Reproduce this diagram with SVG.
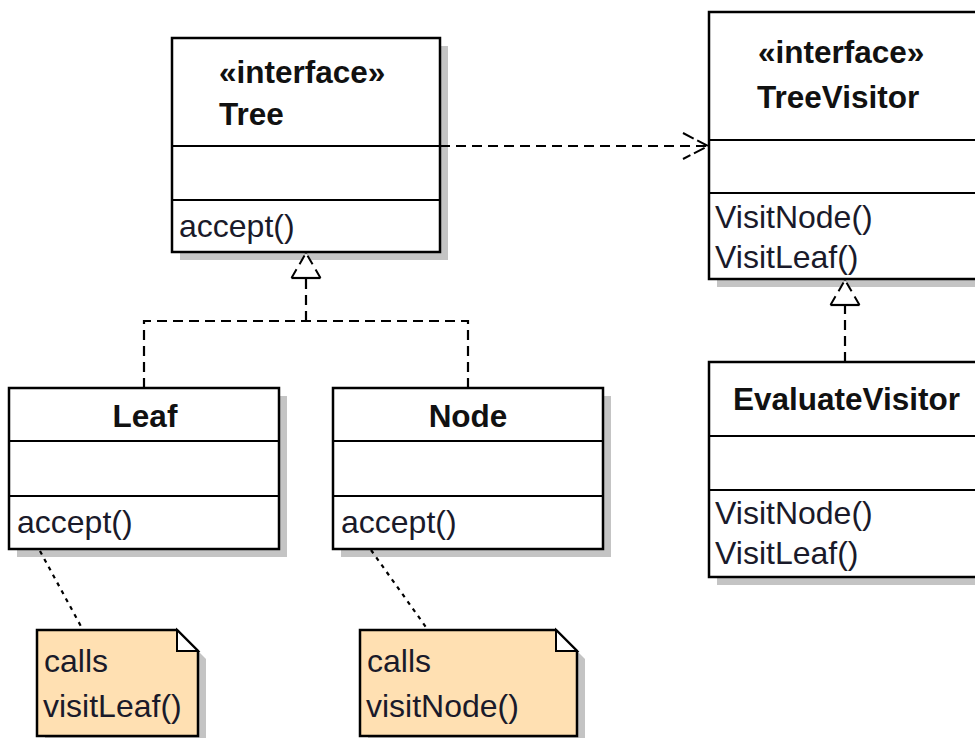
<svg xmlns="http://www.w3.org/2000/svg" width="975" height="738" viewBox="0 0 975 738">
  <style>
    .shadow { fill: #c4c4c4; }
    .box { fill: #ffffff; stroke: #000000; stroke-width: 2.5; }
    .sep { stroke: #000000; stroke-width: 2.2; }
    .title { font-family: "Liberation Sans", Arial, sans-serif; font-weight: bold; font-size: 31.5px; fill: #111111; }
    .op { font-family: "Liberation Sans", Arial, sans-serif; font-size: 32px; fill: #1a1a2a; }
    .note { fill: #ffe0b2; stroke: #000000; stroke-width: 2.5; stroke-linejoin: miter; }
    .fold { fill: #ffffff; stroke: #000000; stroke-width: 2; }
    .dashed { fill: none; stroke: #000000; stroke-width: 2.2; stroke-dasharray: 10 6; }
    .dotted { fill: none; stroke: #000000; stroke-width: 2.2; stroke-dasharray: 4 5; }
  </style>
  <defs>
    <!-- hollow realization triangle, tip on the end point -->
    <marker id="realize" markerUnits="userSpaceOnUse" orient="auto" refX="0" refY="0" markerWidth="1" markerHeight="1" overflow="visible">
      <path d="M0 0 L-25 -14.5 L-25 14.5 Z" fill="#ffffff" stroke="none"/>
      <path d="M-25 -14.5 L0 0 L-25 14.5" fill="none" stroke="#000000" stroke-width="2" stroke-dasharray="10 6"/>
      <path d="M-25 -14.5 L-25 14.5" fill="none" stroke="#000000" stroke-width="2.2"/>
    </marker>
    <!-- open arrow for dependencies -->
    <marker id="depend" markerUnits="userSpaceOnUse" orient="auto" refX="0" refY="0" markerWidth="1" markerHeight="1" overflow="visible">
      <path d="M-25 -13 L0 0 L-25 13" fill="none" stroke="#000000" stroke-width="2" stroke-dasharray="12 4"/>
    </marker>
  </defs>

  <rect width="975" height="738" fill="#ffffff"/>

  <!-- interface Tree -->
  <g id="tree">
    <rect class="shadow" x="180" y="46" width="268" height="214"/>
    <rect class="box" x="172" y="38" width="268" height="214"/>
    <line class="sep" x1="172" y1="146" x2="440" y2="146"/>
    <line class="sep" x1="172" y1="200" x2="440" y2="200"/>
    <text class="title" x="219" y="83">«interface»</text>
    <text class="title" x="219" y="125">Tree</text>
    <text class="op" x="179" y="237">accept()</text>
  </g>

  <!-- interface TreeVisitor -->
  <g id="tree-visitor">
    <rect class="shadow" x="717" y="20" width="280" height="267"/>
    <rect class="box" x="709" y="12" width="280" height="267"/>
    <line class="sep" x1="709" y1="140" x2="989" y2="140"/>
    <line class="sep" x1="709" y1="193" x2="989" y2="193"/>
    <text class="title" x="758" y="63">«interface»</text>
    <text class="title" x="757" y="108">TreeVisitor</text>
    <text class="op" x="715" y="228">VisitNode()</text>
    <text class="op" x="715" y="268">VisitLeaf()</text>
  </g>

  <!-- class Leaf -->
  <g id="leaf">
    <rect class="shadow" x="17" y="396" width="270" height="161"/>
    <rect class="box" x="9" y="388" width="270" height="161"/>
    <line class="sep" x1="9" y1="441" x2="279" y2="441"/>
    <line class="sep" x1="9" y1="496" x2="279" y2="496"/>
    <text class="title" x="145" y="427" text-anchor="middle">Leaf</text>
    <text class="op" x="17" y="533">accept()</text>
  </g>

  <!-- class Node -->
  <g id="node">
    <rect class="shadow" x="341" y="396" width="270" height="161"/>
    <rect class="box" x="333" y="388" width="270" height="161"/>
    <line class="sep" x1="333" y1="441" x2="603" y2="441"/>
    <line class="sep" x1="333" y1="496" x2="603" y2="496"/>
    <text class="title" x="468" y="427" text-anchor="middle">Node</text>
    <text class="op" x="341" y="533">accept()</text>
  </g>

  <!-- class EvaluateVisitor -->
  <g id="evaluate-visitor">
    <rect class="shadow" x="717" y="370" width="280" height="215"/>
    <rect class="box" x="709" y="362" width="280" height="215"/>
    <line class="sep" x1="709" y1="436" x2="989" y2="436"/>
    <line class="sep" x1="709" y1="490" x2="989" y2="490"/>
    <text class="title" x="733" y="410">EvaluateVisitor</text>
    <text class="op" x="715" y="524">VisitNode()</text>
    <text class="op" x="715" y="564">VisitLeaf()</text>
  </g>

  <!-- note on Leaf.accept -->
  <g id="note-leaf">
    <path class="shadow" d="M45 638 H185 L206 659 V746 H45 Z"/>
    <path class="note" d="M37 630 H177 L198 651 V736 H37 Z"/>
    <path class="fold" d="M177 630 V651 H198 Z"/>
    <text class="op" x="44" y="672">calls</text>
    <text class="op" x="43" y="717">visitLeaf()</text>
  </g>

  <!-- note on Node.accept -->
  <g id="note-node">
    <path class="shadow" d="M368 638 H564 L585 659 V746 H368 Z"/>
    <path class="note" d="M360 630 H556 L577 651 V736 H360 Z"/>
    <path class="fold" d="M556 630 V651 H577 Z"/>
    <text class="op" x="367" y="672">calls</text>
    <text class="op" x="366" y="717">visitNode()</text>
  </g>

  <!-- connectors -->
  <g id="connectors">
    <!-- Leaf and Node realize Tree -->
    <path class="dashed" d="M144 388 V321 H468 V388"/>
    <path class="dashed" d="M306 321 V253" marker-end="url(#realize)"/>
    <!-- EvaluateVisitor realizes TreeVisitor -->
    <path class="dashed" d="M845 362 V280" marker-end="url(#realize)"/>
    <!-- Tree depends on TreeVisitor -->
    <path class="dashed" d="M440 146 H708" marker-end="url(#depend)"/>
    <!-- note anchors -->
    <path class="dotted" d="M40 551 L83 630"/>
    <path class="dotted" d="M371 550 L428 630"/>
  </g>
</svg>
